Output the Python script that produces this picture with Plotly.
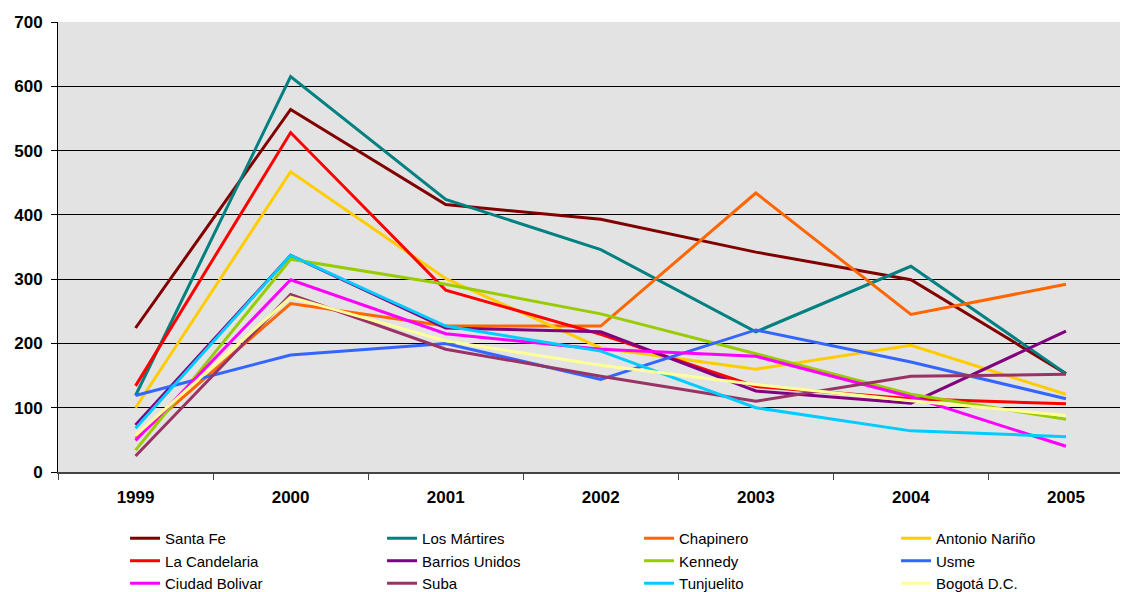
import plotly.graph_objects as go

years = ['1999', '2000', '2001', '2002', '2003', '2004', '2005']

santa_fe = [224, 564, 416, 393, 342, 299, 153]
los_martires = [119, 615, 424, 346, 218, 320, 153]
chapinero = [52, 262, 227, 227, 434, 245, 292]
antonio_narino = [100, 467, 301, 193, 160, 197, 121]
la_candelaria = [134, 528, 283, 214, 133, 114, 106]
barrios_unidos = [73, 337, 224, 218, 126, 107, 219]
kennedy = [34, 331, 292, 246, 184, 121, 82]
usme = [119, 182, 200, 144, 221, 171, 114]
ciudad_bolivar = [49, 299, 215, 191, 180, 117, 40]
suba = [25, 276, 191, 149, 110, 149, 152]
tunjuelito = [68, 337, 227, 188, 100, 64, 55]
bogota = [57, 272, 204, 166, 136, 111, 88]

series = [
    ('Santa Fe', santa_fe, '#800000'),
    ('Los Mártires', los_martires, '#008080'),
    ('Chapinero', chapinero, '#FF6600'),
    ('Antonio Nariño', antonio_narino, '#FFCC00'),
    ('La Candelaria', la_candelaria, '#FF0000'),
    ('Barrios Unidos', barrios_unidos, '#800080'),
    ('Kennedy', kennedy, '#99CC00'),
    ('Usme', usme, '#3366FF'),
    ('Ciudad Bolivar', ciudad_bolivar, '#FF00FF'),
    ('Suba', suba, '#993366'),
    ('Tunjuelito', tunjuelito, '#00CCFF'),
    ('Bogotá D.C.', bogota, '#FFFF99'),
]

fig = go.Figure()
for name, vals, color in series:
    fig.add_trace(go.Scatter(
        x=years,
        y=vals,
        name=name,
        mode='lines',
        line=dict(color=color, width=3),
    ))

# page body has an 8px margin, so the figure is a bit smaller than the window
fig.update_layout(
    width=1120,
    height=584,
    margin=dict(l=50, r=0, t=14, b=120),
    paper_bgcolor='white',
    plot_bgcolor='#E3E3E3',
    font=dict(family='Liberation Sans, Arial, sans-serif', color='black'),
    legend=dict(
        orientation='h',
        xref='container',
        yref='container',
        x=0.1045,
        y=0.1199,
        xanchor='left',
        yanchor='top',
        entrywidth=212,
        entrywidthmode='pixels',
        font=dict(size=15),
        tracegroupgap=0,
        itemwidth=30,
    ),
)

fig.update_xaxes(
    type='category',
    range=[-0.5, 6.4],
    tickson='boundaries',
    ticks='outside',
    ticklen=6,
    tickcolor='#444',
    showline=True,
    linecolor='#444',
    linewidth=2,
    showgrid=False,
    automargin=False,
    ticklabelstandoff=9,
    tickfont=dict(size=17, weight='bold'),
)

fig.update_yaxes(
    range=[0, 700],
    dtick=100,
    ticks='outside',
    ticklen=6,
    tickcolor='black',
    showline=True,
    linecolor='black',
    linewidth=1,
    showgrid=True,
    gridcolor='black',
    gridwidth=1,
    zeroline=False,
    automargin=False,
    ticklabelstandoff=5,
    tickfont=dict(size=17, weight='bold'),
)

fig.write_html('out.html')
